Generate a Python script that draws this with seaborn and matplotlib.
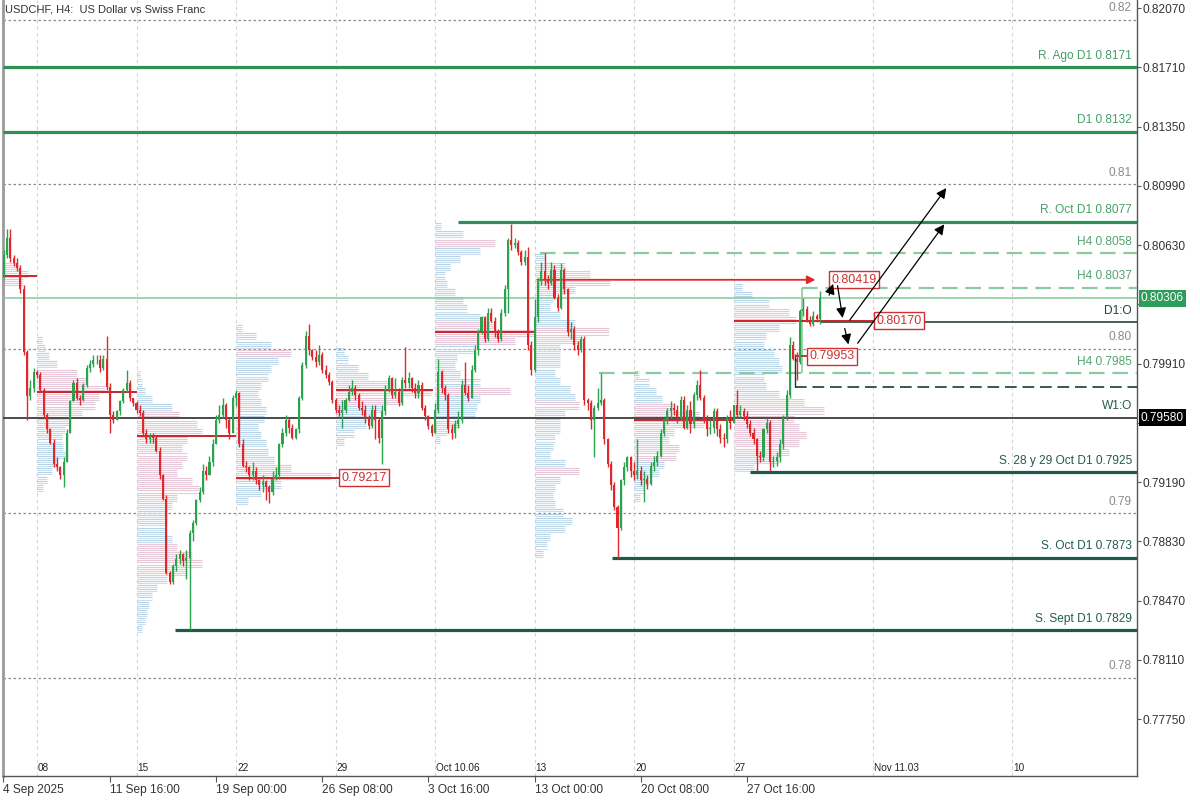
import numpy as np
import matplotlib
matplotlib.use("Agg")
from matplotlib import pyplot as plt
import seaborn as sns


# ---- H4 candles, bar 0 = Mon 8 Sep 2025 00:00 (first visible bar = -10) ----
first_open = 0.8045
closes = [
    0.8057, 0.8067, 0.8055, 0.8052, 0.8049, 0.8036, 0.7998, 0.7971, 0.7976, 0.7986,
    0.7984, 0.7975, 0.7960, 0.7951, 0.7943, 0.7930, 0.7928, 0.7923, 0.7931, 0.7949,
    0.7968, 0.7979, 0.7970, 0.7969, 0.7978, 0.7988, 0.7991, 0.7993, 0.7993, 0.7988,
    0.7994, 0.7977, 0.7960, 0.7957, 0.7962, 0.7968, 0.7975, 0.7979, 0.7970, 0.7967,
    0.7963, 0.7961, 0.7949, 0.7945, 0.7947, 0.7946, 0.7938, 0.7923, 0.7909, 0.7864,
    0.7858, 0.7868, 0.7872, 0.7875, 0.7871, 0.7873, 0.7888, 0.7894, 0.7908, 0.7913,
    0.7926, 0.7923, 0.7931, 0.7942, 0.7957, 0.7960, 0.7966, 0.7957, 0.7949, 0.7970,
    0.7973, 0.7942, 0.7929, 0.7928, 0.7923, 0.7926, 0.7920, 0.7917, 0.7919, 0.7916,
    0.7913, 0.7921, 0.7923, 0.7942, 0.7949, 0.7957, 0.7952, 0.7946, 0.7951, 0.7970,
    0.7990, 0.8008, 0.7999, 0.7995, 0.7992, 0.7996, 0.7987, 0.7984, 0.7980, 0.7969,
    0.7963, 0.7961, 0.7963, 0.7969, 0.7974, 0.7976, 0.7972, 0.7964, 0.7963, 0.7958,
    0.7953, 0.7963, 0.7957, 0.7946, 0.7962, 0.7975, 0.7982, 0.7972, 0.7974, 0.7967,
    0.7981, 0.7979, 0.7982, 0.7976, 0.7973, 0.7978, 0.7964, 0.7959, 0.7953, 0.7949,
    0.7963, 0.7986, 0.7976, 0.7972, 0.7951, 0.7949, 0.7954, 0.7957, 0.7978, 0.7973,
    0.7970, 0.7987, 0.7999, 0.8011, 0.8019, 0.8006, 0.8022, 0.8017, 0.8010, 0.8006,
    0.8022, 0.8036, 0.8066, 0.8063, 0.8064, 0.8059, 0.8053, 0.8056, 0.8002, 0.7987,
    0.8019, 0.8041, 0.8047, 0.8042, 0.8040, 0.8048, 0.8031, 0.8025, 0.8048, 0.8036,
    0.8010, 0.8012, 0.8002, 0.7999, 0.8006, 0.7969, 0.7967, 0.7957, 0.7964, 0.7967,
    0.7969, 0.7945, 0.7930, 0.7917, 0.7904, 0.7891, 0.7920, 0.7928, 0.7934, 0.7926,
    0.7923, 0.7926, 0.7920, 0.7921, 0.7918, 0.7929, 0.7931, 0.7935, 0.7949, 0.7957,
    0.7962, 0.7964, 0.7963, 0.7958, 0.7969, 0.7952, 0.7963, 0.7954, 0.7972, 0.7978,
    0.7970, 0.7957, 0.7951, 0.7952, 0.7962, 0.7951, 0.7946, 0.7945, 0.7958, 0.7955,
    0.7966, 0.7960, 0.7962, 0.7959, 0.7954, 0.7949, 0.7945, 0.7935, 0.7934, 0.7951,
    0.7955, 0.7931, 0.7932, 0.7934, 0.7942, 0.7958, 0.7972, 0.8002, 0.7994, 0.7992,
    0.8023, 0.8024, 0.8017, 0.8015, 0.8020, 0.8018, 0.80306,
]
highs = [
    0.8060, 0.8073, 0.8073, 0.8057, 0.8055, 0.8051, 0.8039, 0.7999, 0.7981, 0.7988,
    0.7987, 0.7986, 0.7976, 0.7961, 0.7952, 0.7945, 0.7934, 0.7929, 0.7934, 0.7951,
    0.7969, 0.7981, 0.7982, 0.7972, 0.7979, 0.7990, 0.7993, 0.7996, 0.7996, 0.7996,
    0.7996, 0.8008, 0.7979, 0.7962, 0.7963, 0.7969, 0.7976, 0.7987, 0.7981, 0.7970,
    0.7968, 0.7966, 0.7963, 0.7951, 0.7949, 0.7949, 0.7947, 0.7940, 0.7924, 0.7911,
    0.7865, 0.7869, 0.7875, 0.7878, 0.7876, 0.7878, 0.7890, 0.7896, 0.7909, 0.7916,
    0.7930, 0.7929, 0.7935, 0.7945, 0.7960, 0.7966, 0.7970, 0.7967, 0.7958, 0.7972,
    0.7975, 0.7974, 0.7945, 0.7932, 0.7929, 0.7931, 0.7928, 0.7921, 0.7923, 0.7920,
    0.7917, 0.7926, 0.7928, 0.7943, 0.7952, 0.7960, 0.7958, 0.7954, 0.7952, 0.7971,
    0.7992, 0.8011, 0.8015, 0.8000, 0.7999, 0.8002, 0.7998, 0.7990, 0.7986, 0.7981,
    0.7970, 0.7966, 0.7969, 0.7970, 0.7978, 0.7981, 0.7978, 0.7973, 0.7968, 0.7966,
    0.7960, 0.7966, 0.7966, 0.7958, 0.7966, 0.7978, 0.7984, 0.7983, 0.7982, 0.7976,
    0.7983, 0.8001, 0.7986, 0.7983, 0.7979, 0.7981, 0.7980, 0.7966, 0.7960, 0.7954,
    0.7967, 0.7994, 0.7987, 0.7978, 0.7973, 0.7954, 0.7957, 0.7962, 0.7981, 0.7992,
    0.7978, 0.7990, 0.8002, 0.8012, 0.8020, 0.8020, 0.8025, 0.8025, 0.8019, 0.8012,
    0.8024, 0.8039, 0.8067, 0.8076, 0.8067, 0.8066, 0.8060, 0.8060, 0.8062, 0.8005,
    0.8030, 0.8043, 0.8053, 0.8058, 0.8045, 0.8053, 0.8051, 0.8033, 0.8052, 0.8049,
    0.8037, 0.8016, 0.8014, 0.8005, 0.8008, 0.8008, 0.7970, 0.7969, 0.7966, 0.7976,
    0.7985, 0.7970, 0.7946, 0.7932, 0.7919, 0.7905, 0.7921, 0.7931, 0.7935, 0.7935,
    0.7931, 0.7945, 0.7929, 0.7926, 0.7923, 0.7931, 0.7935, 0.7938, 0.7951, 0.7958,
    0.7964, 0.7968, 0.7967, 0.7966, 0.7971, 0.7971, 0.7966, 0.7968, 0.7974, 0.7981,
    0.7987, 0.7972, 0.7960, 0.7957, 0.7964, 0.7964, 0.7954, 0.7949, 0.7960, 0.7963,
    0.7963, 0.7975, 0.7966, 0.7964, 0.7962, 0.7957, 0.7952, 0.7946, 0.7938, 0.7952,
    0.7958, 0.7957, 0.7935, 0.7937, 0.7945, 0.7960, 0.7975, 0.8007, 0.8005, 0.7998,
    0.8024, 0.8031, 0.8026, 0.8020, 0.8023, 0.8021, 0.8035,
]
lows = [
    0.8043, 0.8055, 0.8053, 0.8050, 0.8047, 0.8034, 0.7996, 0.7957, 0.7969, 0.7974,
    0.7982, 0.7974, 0.7958, 0.7949, 0.7942, 0.7928, 0.7926, 0.7921, 0.7916, 0.7931,
    0.7949, 0.7968, 0.7969, 0.7966, 0.7968, 0.7977, 0.7986, 0.7989, 0.7991, 0.7986,
    0.7987, 0.7975, 0.7949, 0.7955, 0.7957, 0.7960, 0.7967, 0.7974, 0.7968, 0.7965,
    0.7961, 0.7959, 0.7947, 0.7943, 0.7943, 0.7943, 0.7937, 0.7921, 0.7908, 0.7863,
    0.7857, 0.7857, 0.7865, 0.7869, 0.7868, 0.7860, 0.7829, 0.7883, 0.7893, 0.7907,
    0.7912, 0.7920, 0.7926, 0.7929, 0.7942, 0.7955, 0.7958, 0.7952, 0.7945, 0.7949,
    0.7965, 0.7940, 0.7928, 0.7925, 0.7920, 0.7920, 0.7918, 0.7914, 0.7913, 0.7908,
    0.7906, 0.7911, 0.7920, 0.7921, 0.7940, 0.7947, 0.7949, 0.7945, 0.7945, 0.7949,
    0.7969, 0.7988, 0.7996, 0.7993, 0.7989, 0.7990, 0.7985, 0.7982, 0.7978, 0.7967,
    0.7961, 0.7959, 0.7952, 0.7961, 0.7968, 0.7972, 0.7969, 0.7963, 0.7960, 0.7955,
    0.7951, 0.7952, 0.7945, 0.7943, 0.7930, 0.7960, 0.7974, 0.7970, 0.7970, 0.7965,
    0.7966, 0.7976, 0.7976, 0.7974, 0.7970, 0.7970, 0.7963, 0.7957, 0.7951, 0.7947,
    0.7957, 0.7961, 0.7973, 0.7969, 0.7949, 0.7945, 0.7946, 0.7952, 0.7955, 0.7972,
    0.7968, 0.7970, 0.7986, 0.7996, 0.8009, 0.8004, 0.8005, 0.8016, 0.8007, 0.8004,
    0.8005, 0.8020, 0.8022, 0.8060, 0.8061, 0.8057, 0.8051, 0.8051, 0.7999, 0.7984,
    0.7986, 0.8016, 0.8039, 0.8039, 0.8036, 0.8039, 0.8030, 0.8023, 0.8024, 0.8033,
    0.8008, 0.8006, 0.7999, 0.7996, 0.7998, 0.7966, 0.7963, 0.7951, 0.7934, 0.7963,
    0.7966, 0.7942, 0.7928, 0.7914, 0.7902, 0.7873, 0.7890, 0.7917, 0.7926, 0.7922,
    0.7920, 0.7921, 0.7917, 0.7907, 0.7915, 0.7917, 0.7926, 0.7929, 0.7934, 0.7947,
    0.7954, 0.7958, 0.7960, 0.7955, 0.7957, 0.7951, 0.7951, 0.7949, 0.7952, 0.7969,
    0.7969, 0.7955, 0.7947, 0.7948, 0.7949, 0.7947, 0.7943, 0.7940, 0.7943, 0.7951,
    0.7955, 0.7958, 0.7958, 0.7957, 0.7952, 0.7947, 0.7942, 0.7926, 0.7931, 0.7932,
    0.7949, 0.7926, 0.7928, 0.7929, 0.7931, 0.7939, 0.7957, 0.7970, 0.7993, 0.7981,
    0.7991, 0.8020, 0.8016, 0.8014, 0.8014, 0.8016, 0.8015,
]

# ---- weekly volume profiles (volume per 0.0005 price bin, from the top price down) ----
vp_starts = [-10.25, 0, 30, 60, 90, 120, 150, 180, 210]
vp_tops = [0.8053, 0.8008, 0.7987, 0.8015, 0.8001, 0.8077, 0.8058, 0.7987, 0.8040]
vp_w0 = [15, 25, 20]
vp_w1 = [5, 8, 12, 20, 40, 50, 68, 62, 58, 45, 32, 28, 25, 26, 30, 20, 15, 10, 6]
vp_w2 = [3, 5, 8, 15, 35, 42, 60, 65, 50, 45, 50, 45, 40, 55, 62, 40, 35, 30, 30, 28,
         35, 40, 55, 65, 50, 30, 20, 15, 12, 10, 8, 5]
vp_w3 = [6, 20, 35, 55, 42, 35, 32, 25, 22, 25, 30, 28, 22, 25, 30, 32, 38, 55, 95, 45, 25, 12]
vp_w4 = [8, 12, 22, 32, 55, 95, 65, 45, 40, 30, 18, 8]
vp_w5 = [6, 28, 60, 45, 25, 15, 10, 12, 20, 28, 32, 45, 58, 100, 80, 40, 22, 20, 25, 45,
         75, 45, 42, 40, 25, 12, 5]
vp_w6 = [10, 30, 55, 75, 40, 18, 15, 25, 40, 74, 45, 25, 25, 25, 20, 25, 35, 40, 44, 30,
         25, 25, 20, 18, 15, 30, 44, 25, 20, 18, 20, 28, 37, 30, 15, 12, 8]
vp_w7 = [5, 15, 22, 28, 40, 65, 70, 40, 35, 45, 42, 30, 25, 15, 10, 6]
vp_w8 = [8, 18, 35, 55, 62, 45, 32, 30, 40, 45, 48, 30, 32, 45, 70, 90, 60, 65, 72, 65, 55, 45, 20]
vp_vols = [vp_w0, vp_w1, vp_w2, vp_w3, vp_w4, vp_w5, vp_w6, vp_w7, vp_w8]

# point of control of each week (red lines)
poc_prices = [0.8044, 0.7974, 0.7947, 0.79217, 0.7975, 0.8010, 0.80419, 0.7957, 0.80170]
poc_ends = [0, 30, 60, 91.3, 119.5, 150, 235.5, 210, 252.6]

# ---- key levels ----
res_names = ["R. Ago D1 0.8171", "D1 0.8132", "R. Oct D1 0.8077"]
res_prices = [0.8171, 0.8132, 0.8077]
res_from = [-10.25, -10.25, 126.9]
h4_names = ["H4 0.8058", "H4 0.8037", "H4 0.7985"]
h4_prices = [0.8058, 0.8037, 0.7985]
h4_from = [151.6, 230.6, 169.4]
sup_names = ["S. 28 y 29 Oct D1 0.7925", "S. Oct D1 0.7873", "S. Sept D1 0.7829"]
sup_prices = [0.7925, 0.7873, 0.7829]
sup_from = [215, 173.3, 41.6]
grid_prices = [0.82, 0.81, 0.80, 0.79, 0.78]
d1_open = 0.8016
w1_open = 0.7958
last_price = 0.80306
h4_low = 0.7977
mark_price = 0.79953

arrow_start = [(238.5, 0.8031), (241.2, 0.8040), (243.3, 0.8014), (244.5, 0.8016), (246.9, 0.8002)]
arrow_end = [(240.3, 0.8041), (243.0, 0.8017), (244.8, 0.8001), (274.6, 0.8099), (274.0, 0.8077)]

axis_ticks = [0.77750, 0.78110, 0.78470, 0.78830, 0.79190, 0.79550, 0.79910,
              0.80270, 0.80630, 0.80990, 0.81350, 0.81710, 0.82070]
hidden_ticks = [0.79550, 0.80270]   # covered by the price tags
date_ticks = [-10.25, 22, 54, 86, 118, 150, 182, 214]
date_labels = ["4 Sep 2025", "11 Sep 16:00", "19 Sep 00:00", "26 Sep 08:00",
               "3 Oct 16:00", "13 Oct 00:00", "20 Oct 08:00", "27 Oct 16:00"]
week_ticks = [0, 30, 60, 90, 120, 150, 180, 210, 252, 294]
week_labels = ["08", "15", "22", "29", "Oct 10.06", "13", "20", "27", "Nov 11.03", "10"]

GREEN = "#2ba34e"
RED = "#e0282c"
RES_COL = "#2f8f55"
RES_TXT = "#45a067"
H4_COL = "#8ccaa0"
SUP_COL = "#1b5a4c"
PX_PER_BAR = 3.317
XMAX = 331.6
FS = 8.6

sns.set_theme(style="white")
plt.rcParams['font.family'] = ['Liberation Sans Narrow', 'Liberation Sans', 'DejaVu Sans']

fig = plt.figure(figsize=(12, 8), dpi=100)
ax = fig.add_axes([3 / 1200, 24 / 800, 1134 / 1200, 776 / 800])
ax.set_xlim(-10.25, XMAX)
ax.set_ylim(0.77404, 0.82119)
ax.set_facecolor("white")

# grids
for g in grid_prices:
    ax.axhline(g, color="#8a8a8a", lw=0.9, ls=(0, (2, 2)), zorder=1)
    ax.annotate(f"{g:.2f}", (0.9956, g), xycoords=("axes fraction", "data"),
                xytext=(0, 4), textcoords="offset points", ha="right", va="bottom",
                fontsize=FS, color="#8a8a8a")
for w in week_ticks:
    ax.axvline(w, color="#d2d2d2", lw=0.8, ls=(0, (3, 3)), zorder=1)

# volume profiles
BIN = 0.0005
rows = {"#afcfe6": [], "#c2dbec": [], "#ecbfcd": [], "#dcc8dc": []}
for x0, top, vols in zip(vp_starts, vp_tops, vp_vols):
    vmax = max(vols)
    for k, v in enumerate(vols):
        hot = v >= 0.55 * vmax
        for r in range(4):
            yrow = top - k * BIN - (r + 0.5) * BIN / 4
            if hot:
                col = "#ecbfcd" if r % 2 == 0 else "#dcc8dc"
            else:
                col = "#afcfe6" if r % 2 == 0 else "#c2dbec"
            rows[col].append((yrow, x0, x0 + v / PX_PER_BAR))
for col, segs in rows.items():
    segs = np.array(segs)
    ax.hlines(segs[:, 0], segs[:, 1], segs[:, 2], colors=col, lw=0.8, alpha=0.9, zorder=2)

# POC lines
for i, (p, e) in enumerate(zip(poc_prices, poc_ends)):
    s = vp_starts[i]
    if i == 6:
        ax.annotate("", xy=(e, p), xytext=(s, p),
                    arrowprops=dict(arrowstyle="-|>", color=RED, lw=1.3, mutation_scale=12),
                    zorder=4)
    else:
        ax.hlines(p, s, e, colors="#c8242a", lw=1.4, zorder=4)

# levels
for name, p, x0 in zip(res_names, res_prices, res_from):
    ax.hlines(p, x0, XMAX, colors=RES_COL, lw=2.3, zorder=3)
    ax.annotate(name, (0.9956, p), xycoords=("axes fraction", "data"), xytext=(0, 4),
                textcoords="offset points", ha="right", va="bottom", fontsize=FS, color=RES_TXT)
for name, p, x0 in zip(h4_names, h4_prices, h4_from):
    ax.hlines(p, x0, XMAX, colors=H4_COL, lw=1.6, ls=(0, (7, 3.5)), zorder=3)
    ax.annotate(name, (0.9956, p), xycoords=("axes fraction", "data"), xytext=(0, 4),
                textcoords="offset points", ha="right", va="bottom", fontsize=FS, color="#52a470")
for name, p, x0 in zip(sup_names, sup_prices, sup_from):
    ax.hlines(p, x0, XMAX, colors=SUP_COL, lw=2.3, zorder=3)
    ax.annotate(name, (0.9956, p), xycoords=("axes fraction", "data"), xytext=(0, 4),
                textcoords="offset points", ha="right", va="bottom", fontsize=FS, color="#245c4f")

ax.axhline(last_price, color="#86c99c", lw=1.1, zorder=3)
ax.hlines(d1_open, 236, XMAX, colors="#1f4a40", lw=1.2, zorder=3)
ax.annotate("D1:O", (0.9956, d1_open), xycoords=("axes fraction", "data"), xytext=(0, 4),
            textcoords="offset points", ha="right", va="bottom", fontsize=FS, color="#1f3f38")
ax.axhline(w1_open, color="#4a4a4a", lw=1.4, zorder=3)
ax.annotate("W1:O", (0.9956, w1_open), xycoords=("axes fraction", "data"), xytext=(0, 4),
            textcoords="offset points", ha="right", va="bottom", fontsize=FS, color="#245c4f")
ax.hlines(h4_low, 228.5, XMAX, colors="#1c3a34", lw=1.2, ls=(0, (7, 3.5)), zorder=3)
ax.vlines(228.5, h4_low, 0.7997, colors="#1c3a34", lw=1.0, zorder=3)
ax.vlines(230.6, h4_prices[2], h4_prices[1], colors=H4_COL, lw=1.2, zorder=3)
ax.hlines(mark_price, 228.5, 232.4, colors="#c8242a", lw=1.3, zorder=4)

# candles
x = np.arange(-10, -10 + len(closes))
c = np.array(closes)
o = np.concatenate([[first_open], c[:-1]])
h = np.maximum.reduce([np.array(highs), o, c])
l = np.minimum.reduce([np.array(lows), o, c])
up = c >= o
cols = np.where(up, GREEN, RED)
ax.vlines(x, l, h, colors=cols, lw=1.0, zorder=5)
body_lo = np.minimum(o, c)
body_h = np.maximum(np.abs(c - o), 0.00003)
ax.bar(x, body_h, bottom=body_lo, width=0.62, color=cols, lw=0, zorder=6)

# price boxes on the chart
box_kw = dict(boxstyle="square,pad=0.2", fc="white", ec="#d03030", lw=1.0)
for xi, p in [(91.3, poc_prices[3]), (239.1, poc_prices[6]), (252.6, poc_prices[8]),
              (232.4, mark_price)]:
    ax.text(xi + 0.4, p, f"{p:.5f}", ha="left", va="center", fontsize=9,
            color="#d03030", bbox=box_kw, zorder=8)

# arrows
for s, e in zip(arrow_start, arrow_end):
    ax.annotate("", xy=e, xytext=s,
                arrowprops=dict(arrowstyle="-|>", color="black", lw=0.9, mutation_scale=15),
                zorder=9)

# axes / ticks
ax.yaxis.tick_right()
ax.set_yticks(axis_ticks)
ax.set_yticklabels(["" if t in hidden_ticks else f"{t:.5f}" for t in axis_ticks])
ax.tick_params(axis="y", direction="out", length=3, width=0.8, color="#555555",
               labelsize=FS, labelcolor="#333333", pad=1, right=True, left=False)
ax.set_xticks(date_ticks)
ax.set_xticklabels(date_labels, ha="left")
ax.tick_params(axis="x", direction="out", length=4, width=0.8, color="#555555",
               labelsize=FS, labelcolor="#333333", pad=2, bottom=True)
ax.grid(False)
ax.spines["top"].set_visible(False)
ax.spines["left"].set_color("#9a9a9a")
ax.spines["left"].set_linewidth(2.0)
ax.spines["right"].set_color("#555555")
ax.spines["bottom"].set_color("#555555")
ax.spines["right"].set_linewidth(1.0)
ax.spines["bottom"].set_linewidth(1.0)

for w, lab in zip(week_ticks, week_labels):
    ax.text(w + 0.3, 0.0105, lab, transform=ax.get_xaxis_transform(), ha="left",
            va="center", fontsize=7.2, color="#222222")

# current price tags on the right axis
ax.text(1.0035, last_price, f"{last_price:.5f}", transform=ax.get_yaxis_transform(),
        ha="left", va="center", fontsize=FS, color="white", clip_on=False,
        bbox=dict(boxstyle="square,pad=0.2", fc="#2e9d5a", ec="none"), zorder=10)
ax.text(1.0035, w1_open, "0.79580", transform=ax.get_yaxis_transform(),
        ha="left", va="center", fontsize=FS, color="white", clip_on=False,
        bbox=dict(boxstyle="square,pad=0.2", fc="black", ec="none"), zorder=10)

fig.text(5 / 1200, 1 - 10 / 800, "USDCHF, H4:  US Dollar vs Swiss Franc", ha="left",
         va="center", fontsize=8, color="#333333")

fig.savefig("out.png", dpi=100)
